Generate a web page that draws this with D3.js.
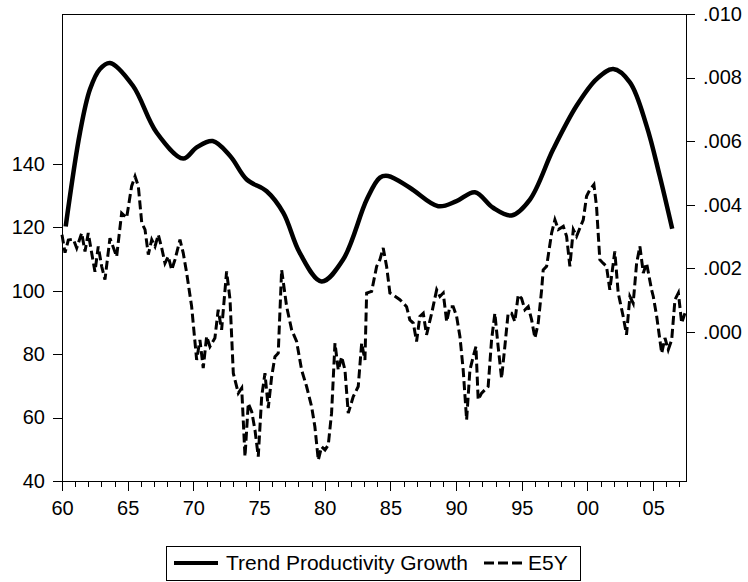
<!DOCTYPE html>
<html>
<head>
<meta charset="utf-8">
<script src="https://cdn.jsdelivr.net/npm/d3@7/dist/d3.min.js"></script>
<style>
  html, body { margin: 0; padding: 0; background: #fff; }
  svg text { font-family: "Liberation Sans", Arial, sans-serif; fill: #000; }
</style>
</head>
<body>
<svg id="chart" width="748" height="582"></svg>
<script>
// ---------------- data ----------------
const seriesNames = ["Trend Productivity Growth", "E5Y"];

const trendYears = [1960.28, 1961.37, 1962.13, 1962.89, 1963.65, 1965.4, 1967.2, 1969.23, 1970.25, 1971.47,
  1972.8, 1974.06, 1975.58, 1976.85, 1978.1, 1979.76, 1981.4, 1983.2, 1984.2, 1984.83, 1986.48,
  1988.64, 1990.03, 1991.43, 1992.82, 1994.22, 1995.62, 1997.39, 1999.17, 2000.69, 2001.96,
  2003.23, 2004.5, 2005.5, 2006.45];
const trendValues = [0.00331, 0.00627, 0.00763, 0.00827, 0.00846, 0.00774, 0.00627, 0.00545, 0.0058, 0.0060,
  0.00553, 0.00479, 0.00442, 0.00374, 0.00248, 0.00158, 0.00227, 0.00416, 0.00485, 0.0049, 0.00453,
  0.00395, 0.00411, 0.00439, 0.0039, 0.00366, 0.00416, 0.00574, 0.00711, 0.00795, 0.00827,
  0.00785, 0.00648, 0.0049, 0.00324];

const e5yYears = [1960.0, 1960.23, 1960.48, 1960.86, 1961.12, 1961.50, 1961.75, 1962.00, 1962.26, 1962.51,
  1962.76, 1963.02, 1963.27, 1963.65, 1964.16, 1964.54, 1964.92, 1965.30, 1965.56, 1965.81,
  1966.07, 1966.32, 1966.57, 1966.83, 1967.08, 1967.33, 1967.59, 1967.84, 1968.09, 1968.35,
  1968.60, 1968.98, 1969.23, 1969.49, 1969.87, 1970.25, 1970.50, 1970.75, 1971.01, 1971.26,
  1971.64, 1971.89, 1972.15, 1972.53, 1972.79, 1973.04, 1973.42, 1973.68, 1973.93, 1974.18,
  1974.44, 1974.69, 1974.94, 1975.20, 1975.45, 1975.70, 1975.96, 1976.21, 1976.46, 1976.72,
  1977.10, 1977.48, 1977.86, 1978.24, 1978.62, 1979.00, 1979.25, 1979.51, 1979.76, 1980.02,
  1980.27, 1980.52, 1980.78, 1981.03, 1981.29, 1981.54, 1981.79, 1982.17, 1982.55, 1982.81,
  1983.06, 1983.19, 1983.57, 1983.95, 1984.20, 1984.45, 1984.71, 1984.96, 1985.21, 1985.72,
  1986.23, 1986.48, 1986.74, 1986.99, 1987.24, 1987.50, 1987.75, 1988.14, 1988.52, 1988.77,
  1989.02, 1989.28, 1989.53, 1989.78, 1990.04, 1990.29, 1990.54, 1990.80, 1991.05, 1991.30,
  1991.51, 1991.68, 1991.94, 1992.44, 1992.70, 1992.95, 1993.20, 1993.46, 1993.71, 1993.96,
  1994.22, 1994.47, 1994.73, 1994.98, 1995.24, 1995.49, 1995.75, 1996.00, 1996.25, 1996.51,
  1996.63, 1996.89, 1997.27, 1997.52, 1997.78, 1998.16, 1998.41, 1998.66, 1998.92, 1999.17,
  1999.68, 1999.93, 2000.18, 2000.49, 2000.69, 2000.94, 2001.19, 2001.45, 2001.70, 2002.08,
  2002.34, 2002.72, 2002.97, 2003.23, 2003.48, 2003.74, 2003.99, 2004.25, 2004.50, 2004.88,
  2005.01, 2005.27, 2005.65, 2005.90, 2006.15, 2006.41, 2006.66, 2006.92, 2007.17, 2007.42];
const e5yValues = [117.7, 112, 116, 116.3, 113.5, 118.2, 112.4, 118.2, 111.9, 106,
  114, 107.7, 103.5, 116.6, 110.8, 124.5, 123, 133, 136.1, 133,
  121.4, 119.3, 111.4, 116.1, 114, 117.7, 113.5, 108.7, 110.8, 106.6,
  109.8, 116.1, 111.9, 105.6, 95, 78.2, 84.5, 75.6, 85.6, 82.4,
  85.1, 94, 87.7, 106.1, 97.2, 74, 67.7, 69.3, 47.7, 64.5,
  61.9, 56.1, 47.7, 66.6, 74, 63, 72.9, 79.2, 80.3, 106.6,
  95, 87.7, 84, 75, 69.8, 63.5, 57.1, 46.6, 50.8, 49.8,
  51.4, 61.4, 83.5, 75, 79.2, 75, 61.4, 66.6, 69.8, 83.5,
  78.2, 99.3, 99.8, 107.7, 109.8, 113.5, 107.7, 99.3, 98.7, 97.2,
  95, 90.8, 89.8, 84, 91.9, 92.9, 86.1, 92.9, 100.3, 98.2,
  99.3, 90.3, 95, 95, 91.9, 85.6, 75, 59.3, 75, 79.2,
  82.4, 65.6, 67.7, 69.8, 84.5, 92.9, 82.4, 72.4, 82.4, 92.9,
  92.9, 90.3, 98.7, 97.6, 94, 95, 90.8, 85.1, 89.8, 100.3,
  106.6, 107.7, 118.2, 122.4, 119.3, 120.3, 117.2, 107.7, 119.3, 117.2,
  122.4, 129.8, 131.9, 133.5, 126.6, 109.8, 108.7, 107.7, 100.3, 112.4,
  99.3, 91.9, 86.1, 98.2, 96.1, 108.7, 114, 105.6, 108.7, 100.3,
  98.2, 91.9, 80.3, 85.1, 81.4, 84.5, 97.2, 99.3, 89.8, 92.9];

const xMajorTicks = [1960, 1965, 1970, 1975, 1980, 1985, 1990, 1995, 2000, 2005];
const leftTicks = [40, 60, 80, 100, 120, 140];
const rightTicks = [0, 0.002, 0.004, 0.006, 0.008, 0.010];

// ---------------- layout ----------------
const svg = d3.select("#chart");
const L = 62, R = 686, T = 14, B = 481;

const x = d3.scaleLinear().domain([1960, 2007.5]).range([L, R]);
const yL = d3.scaleLinear().domain([40, 187.3]).range([B, T]);
const yR = d3.scaleLinear().domain([-0.0047, 0.010]).range([B, T]);

const xMinor = d3.range(1960, 2008, 1);

// frame
svg.append("rect").attr("x", L).attr("y", T).attr("width", R - L).attr("height", B - T)
  .attr("fill", "none").attr("stroke", "#000").attr("stroke-width", 1).attr("shape-rendering", "crispEdges");

// bottom axis (minor + major ticks)
const gx = svg.append("g").attr("transform", `translate(0,${B})`);
gx.call(d3.axisBottom(x).tickValues(xMinor).tickSize(6).tickFormat(""))
  .call(g => g.select(".domain").remove());
gx.append("g").call(d3.axisBottom(x).tickValues(xMajorTicks).tickSize(10).tickPadding(10)
  .tickFormat(d => String(d % 100).padStart(2, "0")))
  .call(g => g.select(".domain").remove());
gx.selectAll("line").attr("stroke", "#000").attr("shape-rendering", "crispEdges");
gx.selectAll("text").attr("font-size", 20).attr("font-family", "Liberation Sans, Arial, sans-serif").attr("fill", "#000");

// left axis
const gl = svg.append("g").attr("transform", `translate(${L},0)`)
  .call(d3.axisLeft(yL).tickValues(leftTicks).tickSize(9).tickPadding(8).tickFormat(d3.format("d")))
  .call(g => g.select(".domain").remove());
gl.selectAll("line").attr("stroke", "#000").attr("shape-rendering", "crispEdges");
gl.selectAll("text").attr("font-size", 20).attr("font-family", "Liberation Sans, Arial, sans-serif").attr("fill", "#000");

// right axis
const fmtR = v => d3.format(".3f")(v).replace(/^0/, "");
const gr = svg.append("g").attr("transform", `translate(${R},0)`)
  .call(d3.axisRight(yR).tickValues(rightTicks).tickSize(9).tickPadding(8).tickFormat(fmtR))
  .call(g => g.select(".domain").remove());
gr.selectAll("line").attr("stroke", "#000").attr("shape-rendering", "crispEdges");
gr.selectAll("text").attr("font-size", 20).attr("font-family", "Liberation Sans, Arial, sans-serif").attr("fill", "#000");

// series
const e5yData = e5yYears.map((yr, i) => [yr, e5yValues[i]]);
const trendData = trendYears.map((yr, i) => [yr, trendValues[i]]);

svg.append("path").datum(e5yData)
  .attr("fill", "none").attr("stroke", "#000").attr("stroke-width", 3)
  .attr("stroke-dasharray", "9,4").attr("stroke-linejoin", "miter")
  .attr("d", d3.line().x(d => x(d[0])).y(d => yL(d[1])));

svg.append("path").datum(trendData)
  .attr("fill", "none").attr("stroke", "#000").attr("stroke-width", 4.5)
  .attr("d", d3.line().x(d => x(d[0])).y(d => yR(d[1])).curve(d3.curveCatmullRom.alpha(0.5)));

// legend
const lg = svg.append("g");
lg.append("rect").attr("x", 166.5).attr("y", 546.5).attr("width", 414).attr("height", 34)
  .attr("fill", "#fff").attr("stroke", "#000").attr("stroke-width", 1);
lg.append("line").attr("x1", 174).attr("x2", 218).attr("y1", 563).attr("y2", 563)
  .attr("stroke", "#000").attr("stroke-width", 4);
lg.append("text").attr("x", 226).attr("y", 570).attr("font-size", 21).text(seriesNames[0]);
lg.append("line").attr("x1", 484).attr("x2", 522).attr("y1", 563).attr("y2", 563)
  .attr("stroke", "#000").attr("stroke-width", 3).attr("stroke-dasharray", "10,4");
lg.append("text").attr("x", 528).attr("y", 570).attr("font-size", 21).text(seriesNames[1]);
</script>
</body>
</html>
